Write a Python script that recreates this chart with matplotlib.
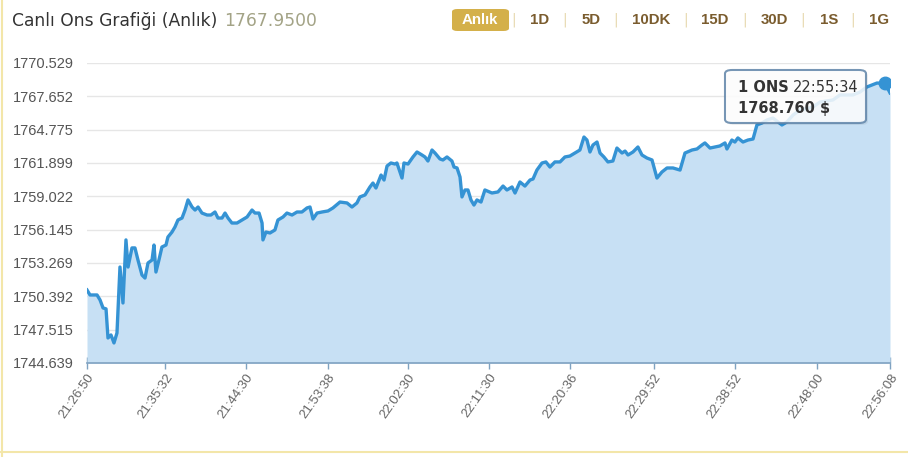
import matplotlib
matplotlib.use('Agg')
from matplotlib import pyplot as plt
from matplotlib.patches import FancyBboxPatch
from matplotlib.lines import Line2D

# saniye (21:26:50'dan itibaren) ve ons fiyati
saniye = [0, 20, 67, 87, 107, 127, 140, 160, 180, 200, 220, 240, 260, 274, 300, 320, 340, 367, 387, 407,
          434, 447, 460, 480, 500, 527, 540, 567, 587, 607, 634, 654, 674, 701, 721, 741, 767, 801, 827, 854,
          874, 901, 921, 941, 967, 1001, 1034, 1068, 1101, 1121, 1148, 1168, 1174, 1194, 1221, 1254, 1274, 1308, 1334, 1368,
          1401, 1434, 1468, 1488, 1508, 1535, 1568, 1608, 1641, 1688, 1735, 1768, 1801, 1821, 1855, 1888, 1908, 1928, 1962, 1982,
          2002, 2028, 2055, 2068, 2102, 2115, 2142, 2175, 2202, 2235, 2255, 2275, 2302, 2322, 2355, 2375, 2402, 2435, 2449, 2469,
          2489, 2502, 2522, 2542, 2562, 2582, 2602, 2629, 2655, 2702, 2742, 2776, 2802, 2836, 2856, 2889, 2922, 2956, 2976, 3002,
          3036, 3062, 3089, 3122, 3156, 3189, 3222, 3256, 3289, 3316, 3336, 3356, 3376, 3403, 3423, 3449, 3476, 3509, 3536, 3570,
          3590, 3610, 3643, 3676, 3703, 3736, 3770, 3803, 3836, 3870, 3910, 3957, 3990, 4037, 4070, 4103, 4123, 4157, 4190, 4223,
          4257, 4270, 4303, 4323, 4343, 4377, 4410, 4444, 4470, 4504, 4537, 4577, 4637, 4670, 4711, 4757, 4844, 4891, 4977, 5024,
          5110, 5157, 5204, 5271, 5324, 5338, 5358]
fiyat = [1750.94, 1750.51, 1750.51, 1750.08, 1749.39, 1749.31, 1746.80, 1747.06, 1746.37, 1747.23, 1752.92, 1749.82, 1755.26, 1752.92, 1754.57, 1754.57, 1753.53, 1752.23, 1751.97, 1753.27,
         1753.53, 1754.82, 1752.49, 1753.53, 1754.65, 1754.82, 1755.51, 1755.94, 1756.38, 1756.98, 1757.15, 1757.84, 1758.71, 1758.10, 1757.84, 1758.10, 1757.58, 1757.41, 1757.41, 1757.67,
         1757.15, 1757.15, 1757.58, 1757.15, 1756.72, 1756.72, 1756.98, 1757.24, 1757.84, 1757.58, 1757.58, 1756.72, 1755.26, 1755.94, 1755.86, 1756.12, 1756.98, 1757.24, 1757.58, 1757.41,
         1757.67, 1757.67, 1758.02, 1758.10, 1757.07, 1757.58, 1757.67, 1757.76, 1758.02, 1758.53, 1758.45, 1758.10, 1758.45, 1758.97, 1759.14, 1759.83, 1760.17, 1759.74, 1760.86, 1760.43,
         1761.64, 1761.90, 1761.81, 1761.90, 1760.60, 1761.90, 1761.81, 1762.42, 1762.85, 1762.59, 1762.42, 1762.07, 1763.02, 1762.76, 1762.25, 1762.16, 1762.42, 1762.07, 1761.55, 1761.47,
         1760.69, 1758.97, 1759.57, 1759.57, 1758.71, 1758.27, 1758.71, 1758.53, 1759.57, 1759.31, 1759.40, 1759.91, 1759.57, 1759.83, 1759.31, 1760.26, 1759.91, 1760.43, 1760.52, 1761.29,
         1761.90, 1761.99, 1761.55, 1761.99, 1761.99, 1762.42, 1762.50, 1762.76, 1763.02, 1764.14, 1763.88, 1762.85, 1763.45, 1763.71, 1762.76, 1762.42, 1761.99, 1762.07, 1763.19, 1762.76,
         1762.93, 1762.59, 1762.85, 1763.28, 1762.59, 1762.33, 1762.16, 1760.60, 1761.12, 1761.47, 1761.47, 1761.29, 1762.76, 1763.02, 1763.11, 1763.45, 1763.63, 1763.19, 1763.28, 1763.37,
         1763.63, 1763.11, 1763.88, 1763.71, 1764.06, 1763.71, 1763.88, 1763.97, 1765.18, 1765.35, 1765.61, 1765.78, 1765.18, 1765.44, 1766.04, 1766.47, 1766.73, 1767.16, 1767.34, 1767.77,
         1767.77, 1768.02, 1768.46, 1768.80, 1768.76, 1768.46, 1767.95]

y_etiketler = [1744.639, 1747.515, 1750.392, 1753.269, 1756.145, 1759.022, 1761.899, 1764.775, 1767.652, 1770.529]
x_etiketler = ['21:26:50', '21:35:32', '21:44:30', '21:53:38', '22:02:30', '22:11:30',
               '22:20:36', '22:29:52', '22:38:52', '22:48:00', '22:56:08']
butonlar = ['Anlık', '1D', '5D', '10DK', '15D', '30D', '1S', '1G']
son_fiyat = '1767.9500'
secili_zaman = '22:55:34'
secili_fiyat = 1768.760


def saniyeye_cevir(s):
    h, m, sec = [int(p) for p in s.split(':')]
    return (h * 3600 + m * 60 + sec) - (21 * 3600 + 26 * 60 + 50)


fig = plt.figure(figsize=(9.08, 4.57), dpi=100)
ax = fig.add_axes([87 / 908, 1 - 363 / 457, 803 / 908, 300 / 457])

ax.fill_between(saniye, fiyat, y_etiketler[0], color='#c7e0f4', lw=0, zorder=1)
ax.plot(saniye, fiyat, color='#3593d4', lw=2.4, zorder=3, solid_joinstyle='round')
ax.plot([saniyeye_cevir(secili_zaman)], [secili_fiyat], 'o', color='#3593d4', ms=9, zorder=4)

ax.set_xlim(0, saniyeye_cevir(x_etiketler[-1]))
ax.set_ylim(y_etiketler[0], y_etiketler[-1])
ax.set_yticks(y_etiketler)
ax.set_yticklabels([f'{v:.3f}' for v in y_etiketler])
ax.set_xticks([saniyeye_cevir(t) for t in x_etiketler])
ax.set_xticklabels(x_etiketler, rotation=55, ha='right', rotation_mode='anchor')
ax.grid(axis='y', color='#e6e6e6', lw=1)
ax.set_axisbelow(True)

for s in ['top', 'right', 'left']:
    ax.spines[s].set_visible(False)
ax.spines['bottom'].set_color('#7fa2c1')
ax.spines['bottom'].set_linewidth(1.2)
ax.tick_params(axis='y', length=0, pad=9.5, labelsize=10.5, labelcolor='#555555')
ax.tick_params(axis='x', direction='inout', length=8, color='#7fa2c1', width=1,
               labelsize=9.5, labelcolor='#666666', pad=2)
for lab in ax.get_xticklabels() + ax.get_yticklabels():
    lab.set_fontfamily('Liberation Sans')

# baslik
fig.text(12 / 908, 1 - 21 / 457, 'Canlı Ons Grafiği (Anlık)', fontsize=12.3, color='#333333', va='center')
fig.text(224 / 908, 1 - 21 / 457, son_fiyat, fontsize=12.3, color='#a3a386', va='center')

# zaman butonlari
buton_x = [480, 540, 591, 651, 715, 774, 829, 879]
ayrac_x = [514, 565, 616, 686, 745, 803, 853]
fig.add_artist(FancyBboxPatch((452 / 908, 1 - 31 / 457), 57 / 908, 22 / 457,
                              boxstyle='round,pad=0,rounding_size=0.006', transform=fig.transFigure,
                              fc='#d4b04a', ec='none'))
for i, b in enumerate(butonlar):
    renk = 'white' if i == 0 else '#7a5c2e'
    fig.text(buton_x[i] / 908, 1 - 20 / 457, b, fontsize=10.8, fontweight='bold', color=renk,
             ha='center', va='center', family='Liberation Sans')
for x in ayrac_x:
    fig.text(x / 908, 1 - 20 / 457, '|', fontsize=10, color='#e6d8ad', ha='center', va='center')

# tooltip
fig.add_artist(FancyBboxPatch((727 / 908, 1 - 125 / 457), 141 / 908, 53 / 457,
                              boxstyle='round,pad=0,rounding_size=0.008', transform=fig.transFigure,
                              fc='#000000', ec='none', alpha=0.06, zorder=5))
fig.add_artist(FancyBboxPatch((725 / 908, 1 - 123 / 457), 141 / 908, 53 / 457,
                              boxstyle='round,pad=0,rounding_size=0.008', transform=fig.transFigure,
                              fc='white', ec='#5f84a8', lw=1.5, alpha=0.85, zorder=5))
fig.text(738 / 908, 1 - 88 / 457, '1 ONS', fontsize=10.5, fontweight='bold', color='#333333',
         va='center', zorder=6)
fig.text(793 / 908, 1 - 88 / 457, secili_zaman, fontsize=10.5, color='#333333', va='center', zorder=6)
fig.text(738 / 908, 1 - 108 / 457, f'{secili_fiyat:.3f} $', fontsize=10.5, fontweight='bold',
         color='#333333', va='center', zorder=6)

# cerceve
fig.add_artist(Line2D([1.5 / 908, 1.5 / 908], [0, 1], color='#f3e6a9', lw=1.5))
fig.add_artist(Line2D([0, 1], [1 - 452 / 457, 1 - 452 / 457], color='#f3e6a9', lw=1.5))

plt.savefig('out.png', dpi=100)
plt.close()
